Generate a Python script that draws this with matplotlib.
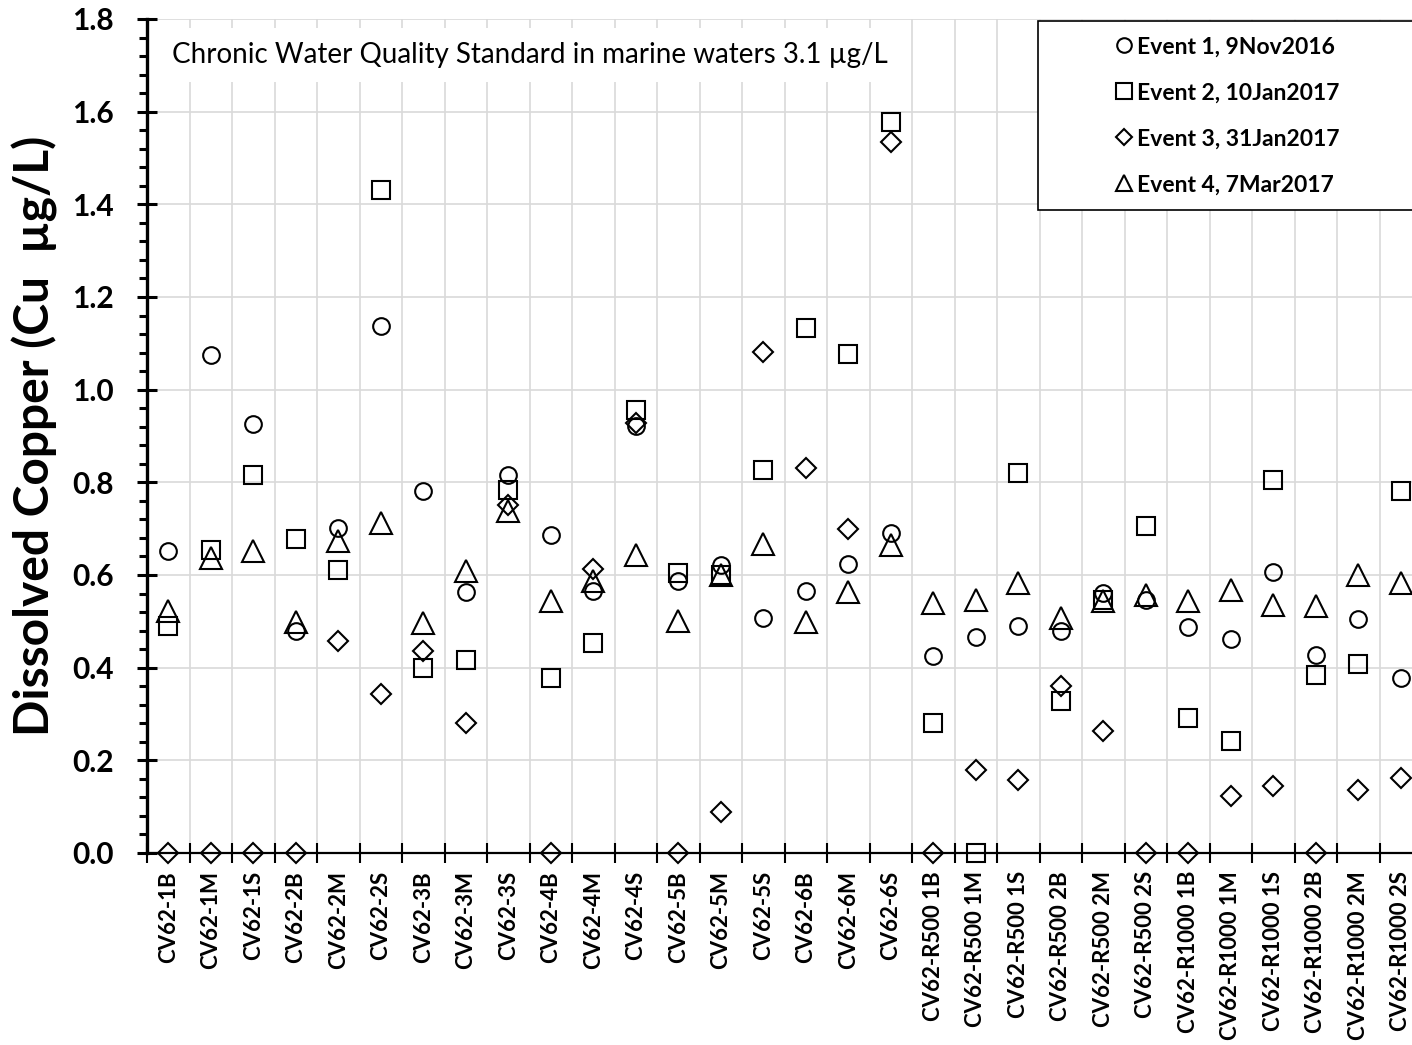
import numpy as np
import matplotlib
matplotlib.use('Agg')
import matplotlib.pyplot as plt
from matplotlib.lines import Line2D
from matplotlib.patches import Rectangle
from matplotlib.ticker import MultipleLocator, FixedLocator

plt.rcParams['font.family'] = ['Lato', 'DejaVu Sans']

# Станции отбора проб
sites = ['CV62-1B', 'CV62-1M', 'CV62-1S', 'CV62-2B', 'CV62-2M', 'CV62-2S',
         'CV62-3B', 'CV62-3M', 'CV62-3S', 'CV62-4B', 'CV62-4M', 'CV62-4S',
         'CV62-5B', 'CV62-5M', 'CV62-5S', 'CV62-6B', 'CV62-6M', 'CV62-6S',
         'CV62-R500 1B', 'CV62-R500 1M', 'CV62-R500 1S',
         'CV62-R500 2B', 'CV62-R500 2M', 'CV62-R500 2S',
         'CV62-R1000 1B', 'CV62-R1000 1M', 'CV62-R1000 1S',
         'CV62-R1000 2B', 'CV62-R1000 2M', 'CV62-R1000 2S']

# Растворённая медь, мкг/л
event1 = [0.652, 1.075, 0.925, 0.479, 0.701, 1.137, 0.782, 0.564, 0.816, 0.686,
          0.566, 0.922, 0.586, 0.622, 0.508, 0.566, 0.623, 0.690, 0.426, 0.467,
          0.490, 0.479, 0.562, 0.546, 0.487, 0.462, 0.607, 0.427, 0.505, 0.377]
event2 = [0.490, 0.654, 0.816, 0.677, 0.611, 1.431, 0.400, 0.417, 0.783, 0.377,
          0.453, 0.956, 0.605, 0.600, 0.827, 1.134, 1.077, 1.578, 0.281, 0.0,
          0.821, 0.328, 0.545, 0.706, 0.291, 0.242, 0.805, 0.384, 0.407, 0.781]
event3 = [0.0, 0.0, 0.0, 0.0, 0.458, 0.343, 0.435, 0.281, 0.751, 0.0,
          0.614, 0.928, 0.0, 0.089, 1.082, 0.832, 0.699, 1.535, 0.0, 0.179,
          0.158, 0.360, 0.263, 0.0, 0.0, 0.123, 0.145, 0.0, 0.137, 0.161]
event4 = [0.523, 0.636, 0.652, 0.498, 0.674, 0.713, 0.496, 0.609, 0.739, 0.544,
          0.586, 0.644, 0.501, 0.600, 0.667, 0.499, 0.563, 0.665, 0.539, 0.546,
          0.582, 0.507, 0.543, 0.557, 0.544, 0.568, 0.535, 0.533, 0.599, 0.583]

labels = ['Event 1, 9Nov2016', 'Event 2, 10Jan2017',
          'Event 3, 31Jan2017', 'Event 4, 7Mar2017']
markers = ['o', 's', 'D', '^']
sizes = [12, 13, 10, 16.5]
leg_sizes = [10.5, 11.5, 8.2, 12]

W, H = 1412, 1045
fig = plt.figure(figsize=(W / 100, H / 100), dpi=100)
ax = fig.add_axes([147 / W, 1 - 853 / H, 1275 / W, 834 / H])

x = np.arange(len(sites))
for vals, m, s in zip([event1, event2, event3, event4], markers, sizes):
    ax.plot(x, vals, linestyle='none', marker=m, markersize=s,
            markerfacecolor='none', markeredgecolor='black',
            markeredgewidth=1.5, clip_on=False, zorder=5)

ax.set_xlim(-0.5, len(sites) - 0.5)
ax.set_ylim(0, 1.8)

# ось X: подписи по центрам, засечки и сетка по границам
ax.xaxis.set_major_locator(FixedLocator(x))
ax.set_xticklabels(sites, rotation=90, fontsize=16, fontweight='bold')
ax.xaxis.set_minor_locator(FixedLocator(np.arange(len(sites) + 1) - 0.5))
ax.tick_params(axis='x', which='major', length=0, pad=13)
ax.tick_params(axis='x', which='minor', direction='inout', length=15,
               width=1.5, color='black')
for lbl in ax.get_xticklabels():
    lbl.set_va('top')

# ось Y
ax.yaxis.set_major_locator(MultipleLocator(0.2))
ax.yaxis.set_minor_locator(MultipleLocator(0.04))
ax.yaxis.set_major_formatter(plt.FuncFormatter(lambda v, p: f'{v:.1f}'))
ax.tick_params(axis='y', which='major', direction='inout', length=14,
               width=2.2, pad=17, labelsize=21.5)
ax.tick_params(axis='y', which='minor', direction='out', length=6, width=2.2)
for lbl in ax.get_yticklabels():
    lbl.set_fontweight('bold')

ax.grid(True, axis='y', which='major', color='#d9d9d9', linewidth=1.2)
ax.grid(True, axis='x', which='minor', color='#d9d9d9', linewidth=1.2)
ax.set_axisbelow(True)

for side in ['top', 'right']:
    ax.spines[side].set_visible(False)
ax.spines['left'].set_linewidth(2.4)
ax.spines['bottom'].set_linewidth(1.6)

ax.set_ylabel('Dissolved Copper (Cu  µg/L)', fontsize=34.5, fontweight='bold')
ax.yaxis.set_label_coords((58 - 147) / 1275, 0.5)

ax.text((172 - 147) / 1275, 1 - (55 - 19) / 834,
        'Chronic Water Quality Standard in marine waters 3.1 µg/L',
        transform=ax.transAxes, fontsize=20, va='center', ha='left',
        bbox=dict(facecolor='white', edgecolor='none', pad=10), zorder=4)

# легенда
handles = [Line2D([], [], linestyle='none', marker=m, markersize=s,
                  markerfacecolor='none', markeredgecolor='black',
                  markeredgewidth=1.5)
           for m, s in zip(markers, leg_sizes)]
leg = fig.legend(handles, labels, loc='upper left',
                 bbox_to_anchor=(1096 / W, 1 - 18 / H),
                 frameon=False, handlelength=0.8, handletextpad=0.2,
                 labelspacing=1.09, borderpad=0.3,
                 prop=dict(family=['Lato', 'DejaVu Sans'], weight='bold', size=16.5))
fig.patches.append(Rectangle((1038 / W, 1 - 210 / H), 400 / W, 189 / H,
                             transform=fig.transFigure, fill=True,
                             facecolor='white', edgecolor='black',
                             linewidth=1.2, zorder=3))
leg.set_zorder(6)

fig.savefig('out.png', dpi=100)
